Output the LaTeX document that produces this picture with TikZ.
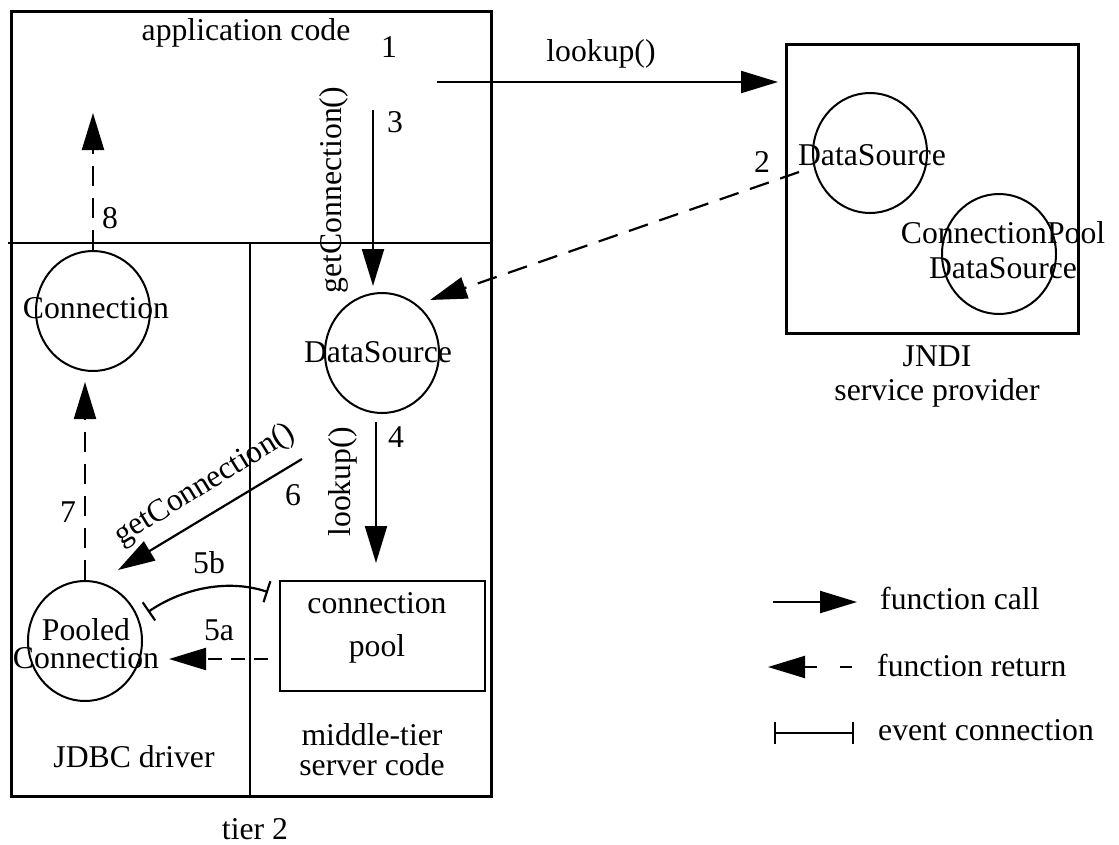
\documentclass[tikz,border=0pt]{standalone}
\usepackage{fontspec}
\setmainfont{Liberation Serif}
\usetikzlibrary{arrows.meta,shapes.geometric}
\begin{document}
\begin{tikzpicture}[x=1pt,y=-1pt,
  box/.style={draw, line width=2.6pt, inner sep=0pt},
  circ/.style={draw, ellipse, line width=2pt, minimum width=114pt, minimum height=120pt, inner sep=0pt},
  txt/.style={font=\fontsize{31.7}{34}\selectfont, inner sep=0pt, align=center},
  call/.style={line width=2.2pt, -{Triangle[length=37pt,width=22pt]}},
  ret/.style={line width=2.2pt, dash pattern=on 20pt off 12pt, -{Triangle[length=37pt,width=22pt]}},
  evt/.style={line width=2.2pt, {Bar[width=22pt]}-{Bar[width=22pt]}},
]
\useasboundingbox (0,0) rectangle (1119,844);

% tier 2 box
\node[box, minimum width=480pt, minimum height=785pt, anchor=north west] (tier) at (10,10) {};
\draw[line width=2.6pt] (8,243) -- (490,243);
\draw[line width=2.6pt] (250,243) -- (250,795);

% JNDI box
\node[box, minimum width=292pt, minimum height=289pt, anchor=north west] (jndi) at (785,43) {};

% connection pool box
\node[draw, line width=2.2pt, minimum width=205pt, minimum height=110pt, anchor=north west, inner sep=0pt] (pool) at (279,580) {};
\node[txt, font=\fontsize{31.7}{43}\selectfont] (pooltxt) at (377,628) {connection\\pool};

% circles
\node[circ] (jds) at (870,153) {};
\node[txt] (jdstxt) at (872,155) {DataSource};
\node[circ] (cpds) at (999,254) {};
\node[txt, font=\fontsize{31.7}{35}\selectfont] (cpdstxt) at (1003,250) {ConnectionPool\\DataSource};
\node[circ] (mds) at (382,353) {};
\node[txt] (mdstxt) at (378,352) {DataSource};
\node[circ] (conn) at (93,311) {};
\node[txt] (conntxt) at (96,308) {Connection};
\node[circ] (pc) at (85,641) {};
\node[txt, font=\fontsize{31.7}{28}\selectfont] (pctxt) at (86,644) {Pooled\\Connection};

% labels
\node[txt] (app) at (246,33) {application code};
\node[txt] (jnditxt) at (937,376) {\fontsize{31.7}{38}\selectfont JNDI\\service provider};
\node[txt] (jdbc) at (134,757) {JDBC driver};
\node[txt, font=\fontsize{31.7}{30}\selectfont] (mid) at (372,750) {middle-tier\\server code};
\node[txt, anchor=base] (tier2) at (255,839) {tier 2};

% 1: lookup
\coordinate (s1) at (437,82);
\draw[call, shorten >=7pt] (s1) -- (s1 -| jndi.west);
\node[txt] (n1) at (389,47) {1};
\node[txt] (l1) at (601,54) {lookup()};

% 2
\coordinate (s2) at (799,172);
\coordinate (e2) at (430,300);
\draw[ret] (s2) -- (e2);
\node[txt] (n2) at (762,162) {2};

% 3
\coordinate (s3) at (373,110);
\draw[call, shorten >=6pt] (s3) -- (s3 |- mds.north);
\node[txt] (n3) at (395,122) {3};
\node[txt, rotate=90] (l3) at (334,190) {getConnection()};

% 4
\coordinate (s4) at (376,422);
\draw[call, shorten >=17pt] (s4) -- (s4 |- pool.north);
\node[txt] (n4) at (396,437) {4};
\node[txt, rotate=90] (l4) at (343,482) {lookup()};

% 5a
\draw[ret, dash pattern=on 14pt off 9pt, shorten <=11pt, shorten >=26pt] (pool.west |- 0,659) -- (pc.east |- 0,659);
\node[txt] (n5a) at (219,630) {5a};

% 5b
\coordinate (s5b) at (268,592);
\coordinate (e5b) at (148,612);
\draw[evt] (s5b) .. controls (225,578) and (180,590) .. (e5b);
\node[txt] (n5b) at (209,563) {5b};

% 6
\coordinate (s6) at (302,459);
\coordinate (e6) at (118,570);
\draw[call] (s6) -- (e6);
\node[txt] (n6) at (293,495) {6};
\node[txt, rotate=31.5] (l6) at (205,485) {getConnection()};

% 7
\draw[ret, shorten >=10pt] (pc.north) -- (pc.north |- conn.south);
\node[txt] (n7) at (68,512) {7};

% 8
\draw[ret] (conn.north) -- ++(0,-137);
\node[txt] (n8) at (110,218) {8};

% legend
\coordinate (lc1) at (773,602);
\coordinate (lc2) at (857,602);
\draw[call] (lc1) -- (lc2);
\node[txt, anchor=west] (lct) at (880,598) {function call};
\coordinate (lr1) at (852,667);
\coordinate (lr2) at (768,667);
\draw[line width=2.2pt, dash pattern=on 12pt off 23pt, -{Triangle[length=37pt,width=22pt]}] (lr1) -- (lr2);
\node[txt, anchor=west] (lrt) at (877,665) {function return};
\coordinate (le1) at (774,733);
\coordinate (le2) at (854,733);
\draw[evt] (le1) -- (le2);
\node[txt, anchor=west] (let) at (878,730) {event connection};
\end{tikzpicture}
\end{document}
